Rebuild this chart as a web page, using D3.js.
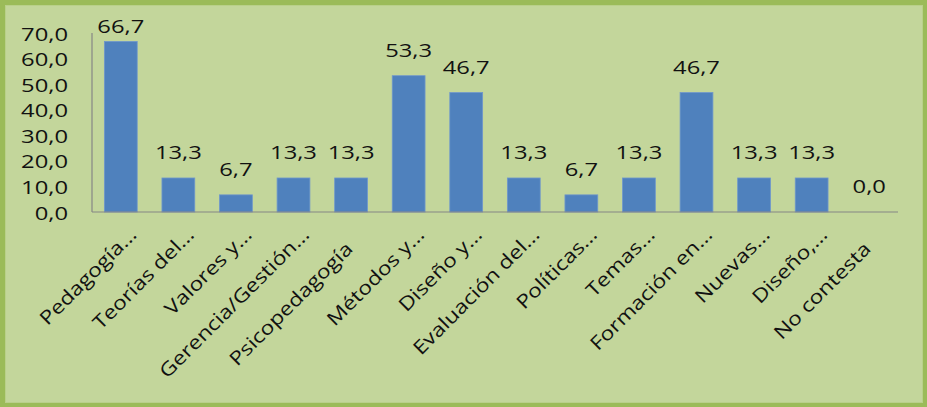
<!DOCTYPE html>
<html>
<head>
<meta charset="utf-8">
<script src="https://cdn.jsdelivr.net/npm/d3@7"></script>
<style>
  html, body { margin: 0; padding: 0; background: #ffffff; }
  svg { display: block; }
  text { font-family: "Open Sans", "Lato", sans-serif; fill: #111111; }
</style>
</head>
<body>
<svg id="chart" width="927" height="407"></svg>
<script>
// Áreas temáticas (porcentaje de respuestas)
const categories = [
  "Pedagogía…", "Teorías del…", "Valores y…", "Gerencia/Gestión…",
  "Psicopedagogía", "Métodos y…", "Diseño y…", "Evaluación del…",
  "Políticas…", "Temas…", "Formación en…", "Nuevas…", "Diseño,…",
  "No contesta"
];
const values = [66.7, 13.3, 6.7, 13.3, 13.3, 53.3, 46.7, 13.3, 6.7, 13.3, 46.7, 13.3, 13.3, 0.0];
const yTicks = [0, 10, 20, 30, 40, 50, 60, 70];

const W = 927, H = 407;
const plot = { left: 92, right: 898, top: 33, bottom: 212 };
const fontSize = 19;
const stretch = 1.25;      // horizontal widening of the label glyphs

const es = d3.formatLocale({ decimal: ",", thousands: ".", grouping: [3], currency: ["", " €"] });
const fmt = es.format(".1f");

const svg = d3.select("#chart");

// Frame: light olive fill with a darker olive border
svg.append("rect")
  .attr("x", 0).attr("y", 0).attr("width", W).attr("height", H)
  .attr("fill", "#9bbb59");
svg.append("rect")
  .attr("x", 5).attr("y", 5).attr("width", W - 9).attr("height", H - 9)
  .attr("fill", "#b9d08a");
svg.append("rect")
  .attr("x", 6).attr("y", 6).attr("width", W - 11).attr("height", H - 11)
  .attr("fill", "#c3d69b");

const x = d3.scaleBand()
  .domain(categories)
  .range([plot.left, plot.right])
  .paddingInner(0.43)
  .paddingOuter(0.215);

const y = d3.scaleLinear()
  .domain([0, 70])
  .range([plot.bottom, plot.top]);

// Y axis tick labels
svg.append("g").selectAll("text")
  .data(yTicks)
  .join("text")
  .attr("text-anchor", "end")
  .attr("dominant-baseline", "central")
  .attr("font-size", fontSize)
  .attr("transform", d => `translate(${plot.left - 24},${y(d)}) scale(${stretch},1)`)
  .text(d => fmt(d));

// Bars
svg.append("g").selectAll("rect")
  .data(values)
  .join("rect")
  .attr("x", (d, i) => x(categories[i]))
  .attr("y", d => y(d))
  .attr("width", x.bandwidth())
  .attr("height", d => plot.bottom - y(d))
  .attr("fill", "#4f81bd")
  .attr("stroke", "#6f97cc")
  .attr("stroke-width", 0.8);

// Axis lines
svg.append("line")
  .attr("x1", plot.left).attr("x2", plot.left)
  .attr("y1", y(70)).attr("y2", plot.bottom)
  .attr("stroke", "#868686").attr("stroke-width", 1.2);
svg.append("line")
  .attr("x1", plot.left).attr("x2", plot.right)
  .attr("y1", plot.bottom).attr("y2", plot.bottom)
  .attr("stroke", "#868686").attr("stroke-width", 1.2);

// Value labels above the bars, kept inside the frame
const labelGap = 19, labelTop = 33;
svg.append("g").selectAll("text")
  .data(values)
  .join("text")
  .attr("text-anchor", "middle")
  .attr("font-size", fontSize)
  .attr("transform", (d, i) => {
    const cx = x(categories[i]) + x.bandwidth() / 2;
    const by = Math.max(y(d) - labelGap, labelTop);
    return `translate(${cx},${by}) scale(${stretch},1)`;
  })
  .text(d => fmt(d));

// Category labels, rotated 45°
const ellipsisRoom = 20;
svg.append("g").selectAll("text")
  .data(categories)
  .join("text")
  .attr("text-anchor", "end")
  .attr("font-size", fontSize)
  .attr("transform", d => {
    const cx = x(d) + x.bandwidth() / 2;
    return `translate(${cx + 17},${plot.bottom + 24}) rotate(-45) scale(1.2,1)`;
  })
  .attr("x", d => d.endsWith("…") ? 0 : -ellipsisRoom / 1.2)
  .text(d => d);
</script>
</body>
</html>
